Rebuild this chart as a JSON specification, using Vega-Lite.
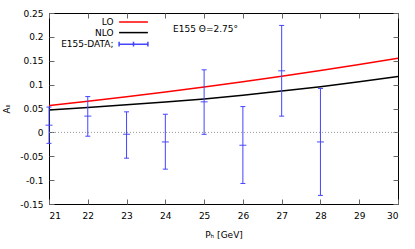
{
  "$schema": "https://vega.github.io/schema/vega-lite/v6.json",
  "width": 349,
  "height": 191,
  "autosize": {"type": "none"},
  "padding": {"left": 49, "top": 13, "right": 17, "bottom": 45},
  "background": "white",
  "config": {
    "view": {"stroke": "#000000", "strokeWidth": 1},
    "font": "DejaVu Sans",
    "axis": {
      "labelFont": "DejaVu Sans",
      "labelFontSize": 9,
      "labelColor": "#000000",
      "titleFont": "DejaVu Sans",
      "titleFontSize": 9,
      "titleFontWeight": "normal",
      "titleColor": "#000000",
      "grid": false,
      "domain": false,
      "tickColor": "#666666",
      "tickSize": -5
    },
    "legend": {
      "labelFont": "DejaVu Sans",
      "labelFontSize": 9,
      "labelColor": "#000000"
    }
  },
  "datasets": {
    "curves": [
      {"p": 21, "series": "LO", "a": 0.056},
      {"p": 22, "series": "LO", "a": 0.065},
      {"p": 23, "series": "LO", "a": 0.0745},
      {"p": 24, "series": "LO", "a": 0.0845},
      {"p": 25, "series": "LO", "a": 0.095},
      {"p": 26, "series": "LO", "a": 0.106},
      {"p": 27, "series": "LO", "a": 0.1175},
      {"p": 28, "series": "LO", "a": 0.1295},
      {"p": 29, "series": "LO", "a": 0.142},
      {"p": 30, "series": "LO", "a": 0.155},
      {"p": 21, "series": "NLO", "a": 0.047},
      {"p": 22, "series": "NLO", "a": 0.0521},
      {"p": 23, "series": "NLO", "a": 0.0576},
      {"p": 24, "series": "NLO", "a": 0.0635},
      {"p": 25, "series": "NLO", "a": 0.07},
      {"p": 26, "series": "NLO", "a": 0.0779},
      {"p": 27, "series": "NLO", "a": 0.0866},
      {"p": 28, "series": "NLO", "a": 0.0957},
      {"p": 29, "series": "NLO", "a": 0.1058},
      {"p": 30, "series": "NLO", "a": 0.117}
    ],
    "points": [
      {"p": 21, "a": 0.015, "lo": -0.023, "hi": 0.053},
      {"p": 22, "a": 0.034, "lo": -0.008, "hi": 0.075},
      {"p": 23, "a": -0.004, "lo": -0.054, "hi": 0.043},
      {"p": 24, "a": -0.02, "lo": -0.077, "hi": 0.038},
      {"p": 25, "a": 0.064, "lo": -0.004, "hi": 0.131},
      {"p": 26, "a": -0.027, "lo": -0.107, "hi": 0.054},
      {"p": 27, "a": 0.129, "lo": 0.034, "hi": 0.224},
      {"p": 28, "a": -0.02, "lo": -0.132, "hi": 0.092}
    ]
  },
  "resolve": {"axis": {"x": "independent", "y": "independent"}},
  "layer": [
    {
      "data": {"values": [{"z": 0}]},
      "mark": {"type": "rule", "color": "#999999", "strokeDash": [1, 2], "strokeWidth": 1},
      "encoding": {
        "y": {"field": "z", "type": "quantitative", "axis": null}
      }
    },
    {
      "data": {"name": "curves"},
      "mark": {"type": "line", "strokeWidth": 1.5, "interpolate": "monotone"},
      "encoding": {
        "x": {
          "field": "p", "type": "quantitative",
          "scale": {"domain": [21, 30], "nice": false, "zero": false},
          "axis": {
            "orient": "bottom",
            "title": "Pₕ [GeV]",
            "values": [21, 22, 23, 24, 25, 26, 27, 28, 29, 30],
            "labelPadding": 12,
            "titlePadding": 10,
            "labelExpr": "datum.value + ''"
          }
        },
        "y": {
          "field": "a", "type": "quantitative",
          "scale": {"domain": [-0.15, 0.25], "nice": false, "zero": false},
          "axis": {
            "orient": "left",
            "title": "Aₗₗ",
            "values": [-0.15, -0.1, -0.05, 0, 0.05, 0.1, 0.15, 0.2, 0.25],
            "labelPadding": 11,
            "titlePadding": 8,
            "labelExpr": "datum.value + ''"
          }
        },
        "stroke": {
          "field": "series", "type": "nominal",
          "scale": {"domain": ["LO", "NLO", "E155-DATA;"], "range": ["#ff0000", "#000000", "#4444ff"]},
          "legend": {
            "title": null,
            "orient": "none",
            "legendX": 79.5,
            "legendY": 4,
            "padding": 0,
            "rowPadding": 0.6,
            "symbolSize": 64,
            "symbolStrokeWidth": 1.5,
            "symbolType": "stroke",
            "labelAlign": "right",
            "labelOffset": -25,
            "encode": {
              "symbols": {
                "update": {
                  "shape": {"signal": "datum.label === 'E155-DATA;' ? 'M-3.6,0H3.6M-3.6,-0.6V0.6M3.6,-0.6V0.6M0,-0.6V0.6' : 'M-3.6,0H3.6'"}
                }
              }
            }
          }
        }
      }
    },
    {
      "data": {"name": "points"},
      "mark": {"type": "rule", "color": "#4444ff", "strokeWidth": 1},
      "encoding": {
        "x": {"field": "p", "type": "quantitative", "axis": null},
        "y": {"field": "lo", "type": "quantitative", "axis": null},
        "y2": {"field": "hi"}
      }
    },
    {
      "data": {"name": "points"},
      "mark": {"type": "tick", "color": "#4444ff", "size": 5, "thickness": 1, "orient": "horizontal", "opacity": 1},
      "encoding": {
        "x": {"field": "p", "type": "quantitative", "axis": null},
        "y": {"field": "lo", "type": "quantitative", "axis": null}
      }
    },
    {
      "data": {"name": "points"},
      "mark": {"type": "tick", "color": "#4444ff", "size": 5, "thickness": 1, "orient": "horizontal", "opacity": 1},
      "encoding": {
        "x": {"field": "p", "type": "quantitative", "axis": null},
        "y": {"field": "hi", "type": "quantitative", "axis": null}
      }
    },
    {
      "data": {"name": "points"},
      "mark": {"type": "tick", "color": "#4444ff", "size": 7, "thickness": 1.2, "orient": "horizontal", "opacity": 0.8},
      "encoding": {
        "x": {
          "field": "p", "type": "quantitative",
          "axis": {
            "orient": "top", "labels": false, "title": null,
            "values": [21, 22, 23, 24, 25, 26, 27, 28, 29, 30]
          }
        },
        "y": {
          "field": "a", "type": "quantitative",
          "axis": {
            "orient": "right", "labels": false, "title": null,
            "values": [-0.15, -0.1, -0.05, 0, 0.05, 0.1, 0.15, 0.2, 0.25]
          }
        }
      }
    },
    {
      "data": {"values": [{}]},
      "mark": {"type": "text", "align": "left", "baseline": "middle", "font": "DejaVu Sans", "fontSize": 9, "color": "#000000"},
      "encoding": {
        "x": {"datum": 24.2, "type": "quantitative", "axis": null},
        "y": {"datum": 0.2166, "type": "quantitative", "axis": null},
        "text": {"value": "E155 Θ=2.75°"}
      }
    }
  ]
}
